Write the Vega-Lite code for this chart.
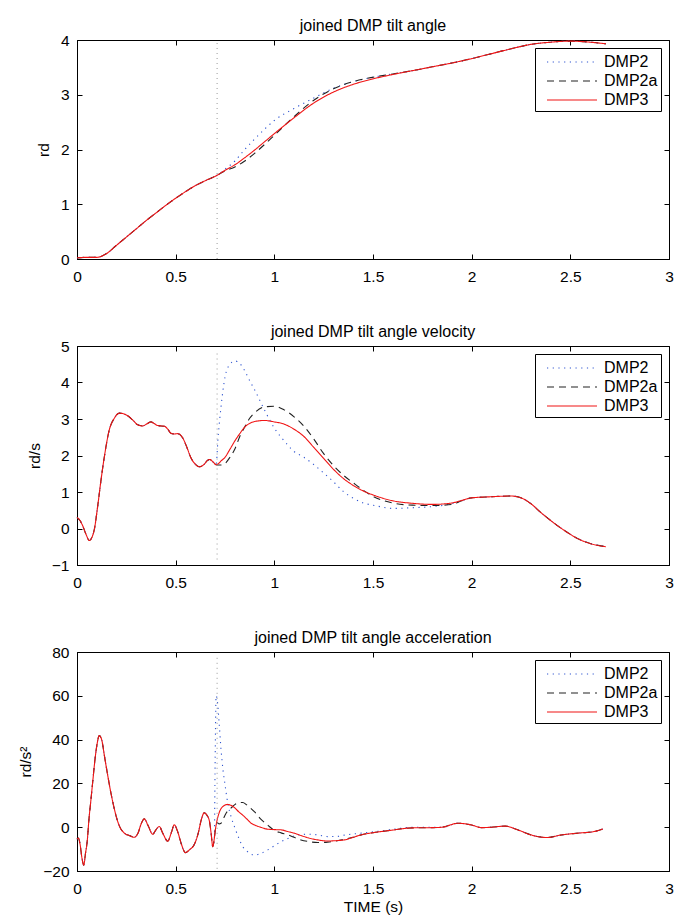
{
  "$schema": "https://vega.github.io/schema/vega-lite/v6.json",
  "padding": {"left": 18, "top": 17, "right": 5, "bottom": 2},
  "spacing": 38,
  "datasets": {
    "angle": [
      {"t": 0, "DMP2": 0.02, "DMP2a": 0.02, "DMP3": 0.02},
      {"t": 0.05, "DMP2": 0.03, "DMP2a": 0.03, "DMP3": 0.03},
      {"t": 0.1, "DMP2": 0.03, "DMP2a": 0.03, "DMP3": 0.03},
      {"t": 0.15, "DMP2": 0.1, "DMP2a": 0.1, "DMP3": 0.1},
      {"t": 0.2, "DMP2": 0.25, "DMP2a": 0.25, "DMP3": 0.25},
      {"t": 0.25, "DMP2": 0.4, "DMP2a": 0.4, "DMP3": 0.4},
      {"t": 0.3, "DMP2": 0.55, "DMP2a": 0.55, "DMP3": 0.55},
      {"t": 0.35, "DMP2": 0.7, "DMP2a": 0.7, "DMP3": 0.7},
      {"t": 0.4, "DMP2": 0.84, "DMP2a": 0.84, "DMP3": 0.84},
      {"t": 0.45, "DMP2": 0.98, "DMP2a": 0.98, "DMP3": 0.98},
      {"t": 0.5, "DMP2": 1.11, "DMP2a": 1.11, "DMP3": 1.11},
      {"t": 0.55, "DMP2": 1.23, "DMP2a": 1.23, "DMP3": 1.23},
      {"t": 0.6, "DMP2": 1.34, "DMP2a": 1.34, "DMP3": 1.34},
      {"t": 0.65, "DMP2": 1.43, "DMP2a": 1.43, "DMP3": 1.43},
      {"t": 0.71, "DMP2": 1.53, "DMP2a": 1.53, "DMP3": 1.53},
      {"t": 0.75, "DMP2": 1.64, "DMP2a": 1.61, "DMP3": 1.62},
      {"t": 0.8, "DMP2": 1.79, "DMP2a": 1.68, "DMP3": 1.72},
      {"t": 0.85, "DMP2": 2.0, "DMP2a": 1.79, "DMP3": 1.85},
      {"t": 0.9, "DMP2": 2.19, "DMP2a": 1.93, "DMP3": 1.99},
      {"t": 0.95, "DMP2": 2.37, "DMP2a": 2.09, "DMP3": 2.14},
      {"t": 1.0, "DMP2": 2.53, "DMP2a": 2.26, "DMP3": 2.29},
      {"t": 1.1, "DMP2": 2.75, "DMP2a": 2.6, "DMP3": 2.58},
      {"t": 1.2, "DMP2": 2.94, "DMP2a": 2.9, "DMP3": 2.85},
      {"t": 1.3, "DMP2": 3.12, "DMP2a": 3.11, "DMP3": 3.05},
      {"t": 1.4, "DMP2": 3.24, "DMP2a": 3.24, "DMP3": 3.19},
      {"t": 1.5, "DMP2": 3.32, "DMP2a": 3.32, "DMP3": 3.29},
      {"t": 1.6, "DMP2": 3.38, "DMP2a": 3.38, "DMP3": 3.37},
      {"t": 1.7, "DMP2": 3.44, "DMP2a": 3.44, "DMP3": 3.44},
      {"t": 1.8, "DMP2": 3.51, "DMP2a": 3.51, "DMP3": 3.51},
      {"t": 1.9, "DMP2": 3.58, "DMP2a": 3.58, "DMP3": 3.58},
      {"t": 2.0, "DMP2": 3.66, "DMP2a": 3.66, "DMP3": 3.66},
      {"t": 2.1, "DMP2": 3.75, "DMP2a": 3.75, "DMP3": 3.75},
      {"t": 2.2, "DMP2": 3.84, "DMP2a": 3.84, "DMP3": 3.84},
      {"t": 2.3, "DMP2": 3.92, "DMP2a": 3.92, "DMP3": 3.92},
      {"t": 2.4, "DMP2": 3.96, "DMP2a": 3.96, "DMP3": 3.96},
      {"t": 2.5, "DMP2": 3.98, "DMP2a": 3.98, "DMP3": 3.98},
      {"t": 2.6, "DMP2": 3.96, "DMP2a": 3.96, "DMP3": 3.96},
      {"t": 2.68, "DMP2": 3.93, "DMP2a": 3.93, "DMP3": 3.93}
    ],
    "vel": [
      {"t": 0, "DMP2": 0.3, "DMP2a": 0.3, "DMP3": 0.3},
      {"t": 0.015, "DMP2": 0.22, "DMP2a": 0.22, "DMP3": 0.22},
      {"t": 0.03, "DMP2": 0.06, "DMP2a": 0.06, "DMP3": 0.06},
      {"t": 0.045, "DMP2": -0.15, "DMP2a": -0.15, "DMP3": -0.15},
      {"t": 0.063, "DMP2": -0.33, "DMP2a": -0.33, "DMP3": -0.33},
      {"t": 0.075, "DMP2": -0.25, "DMP2a": -0.25, "DMP3": -0.25},
      {"t": 0.088, "DMP2": -0.02, "DMP2a": -0.02, "DMP3": -0.02},
      {"t": 0.105, "DMP2": 0.62, "DMP2a": 0.62, "DMP3": 0.62},
      {"t": 0.122, "DMP2": 1.34, "DMP2a": 1.34, "DMP3": 1.34},
      {"t": 0.139, "DMP2": 1.98, "DMP2a": 1.98, "DMP3": 1.98},
      {"t": 0.164, "DMP2": 2.71, "DMP2a": 2.71, "DMP3": 2.71},
      {"t": 0.189, "DMP2": 3.02, "DMP2a": 3.02, "DMP3": 3.02},
      {"t": 0.215, "DMP2": 3.16, "DMP2a": 3.16, "DMP3": 3.16},
      {"t": 0.257, "DMP2": 3.09, "DMP2a": 3.09, "DMP3": 3.09},
      {"t": 0.29, "DMP2": 2.93, "DMP2a": 2.93, "DMP3": 2.93},
      {"t": 0.308, "DMP2": 2.84, "DMP2a": 2.84, "DMP3": 2.84},
      {"t": 0.333, "DMP2": 2.81, "DMP2a": 2.81, "DMP3": 2.81},
      {"t": 0.355, "DMP2": 2.87, "DMP2a": 2.87, "DMP3": 2.87},
      {"t": 0.375, "DMP2": 2.92, "DMP2a": 2.92, "DMP3": 2.92},
      {"t": 0.39, "DMP2": 2.88, "DMP2a": 2.88, "DMP3": 2.88},
      {"t": 0.409, "DMP2": 2.82, "DMP2a": 2.82, "DMP3": 2.82},
      {"t": 0.443, "DMP2": 2.8, "DMP2a": 2.8, "DMP3": 2.8},
      {"t": 0.46, "DMP2": 2.72, "DMP2a": 2.72, "DMP3": 2.72},
      {"t": 0.476, "DMP2": 2.61, "DMP2a": 2.61, "DMP3": 2.61},
      {"t": 0.495, "DMP2": 2.59, "DMP2a": 2.59, "DMP3": 2.59},
      {"t": 0.51, "DMP2": 2.6, "DMP2a": 2.6, "DMP3": 2.6},
      {"t": 0.536, "DMP2": 2.48, "DMP2a": 2.48, "DMP3": 2.48},
      {"t": 0.555, "DMP2": 2.25, "DMP2a": 2.25, "DMP3": 2.25},
      {"t": 0.578, "DMP2": 1.93, "DMP2a": 1.93, "DMP3": 1.93},
      {"t": 0.6, "DMP2": 1.76, "DMP2a": 1.76, "DMP3": 1.76},
      {"t": 0.62, "DMP2": 1.69, "DMP2a": 1.69, "DMP3": 1.69},
      {"t": 0.645, "DMP2": 1.76, "DMP2a": 1.76, "DMP3": 1.76},
      {"t": 0.66, "DMP2": 1.86, "DMP2a": 1.86, "DMP3": 1.86},
      {"t": 0.673, "DMP2": 1.89, "DMP2a": 1.89, "DMP3": 1.89},
      {"t": 0.69, "DMP2": 1.82, "DMP2a": 1.82, "DMP3": 1.82},
      {"t": 0.705, "DMP2": 1.75, "DMP2a": 1.75, "DMP3": 1.75},
      {"t": 0.715, "DMP2": 2.5, "DMP2a": 1.74, "DMP3": 1.77},
      {"t": 0.73, "DMP2": 3.34, "DMP2a": 1.74, "DMP3": 1.85},
      {"t": 0.75, "DMP2": 4.15, "DMP2a": 1.78, "DMP3": 1.95},
      {"t": 0.775, "DMP2": 4.5, "DMP2a": 1.95, "DMP3": 2.17},
      {"t": 0.8, "DMP2": 4.59, "DMP2a": 2.18, "DMP3": 2.4},
      {"t": 0.825, "DMP2": 4.52, "DMP2a": 2.52, "DMP3": 2.6},
      {"t": 0.85, "DMP2": 4.32, "DMP2a": 2.78, "DMP3": 2.78},
      {"t": 0.875, "DMP2": 4.05, "DMP2a": 3.02, "DMP3": 2.88},
      {"t": 0.9, "DMP2": 3.8, "DMP2a": 3.17, "DMP3": 2.93},
      {"t": 0.95, "DMP2": 3.25, "DMP2a": 3.33, "DMP3": 2.96},
      {"t": 1.0, "DMP2": 2.75, "DMP2a": 3.35, "DMP3": 2.92},
      {"t": 1.05, "DMP2": 2.4, "DMP2a": 3.25, "DMP3": 2.86},
      {"t": 1.1, "DMP2": 2.11, "DMP2a": 3.06, "DMP3": 2.72},
      {"t": 1.15, "DMP2": 1.95, "DMP2a": 2.8, "DMP3": 2.52},
      {"t": 1.2, "DMP2": 1.75, "DMP2a": 2.45, "DMP3": 2.22},
      {"t": 1.25, "DMP2": 1.52, "DMP2a": 2.05, "DMP3": 1.92},
      {"t": 1.3, "DMP2": 1.28, "DMP2a": 1.72, "DMP3": 1.62},
      {"t": 1.35, "DMP2": 1.01, "DMP2a": 1.46, "DMP3": 1.37},
      {"t": 1.4, "DMP2": 0.83, "DMP2a": 1.25, "DMP3": 1.18},
      {"t": 1.45, "DMP2": 0.7, "DMP2a": 1.05, "DMP3": 1.03},
      {"t": 1.5, "DMP2": 0.64, "DMP2a": 0.88, "DMP3": 0.92},
      {"t": 1.6, "DMP2": 0.55, "DMP2a": 0.7, "DMP3": 0.76},
      {"t": 1.7, "DMP2": 0.57, "DMP2a": 0.64, "DMP3": 0.69},
      {"t": 1.8, "DMP2": 0.6, "DMP2a": 0.63, "DMP3": 0.66},
      {"t": 1.9, "DMP2": 0.68, "DMP2a": 0.66, "DMP3": 0.7},
      {"t": 1.95, "DMP2": 0.76, "DMP2a": 0.76, "DMP3": 0.77},
      {"t": 2.0, "DMP2": 0.84, "DMP2a": 0.84, "DMP3": 0.84},
      {"t": 2.1, "DMP2": 0.87, "DMP2a": 0.87, "DMP3": 0.87},
      {"t": 2.2, "DMP2": 0.89, "DMP2a": 0.89, "DMP3": 0.89},
      {"t": 2.25, "DMP2": 0.84, "DMP2a": 0.84, "DMP3": 0.84},
      {"t": 2.3, "DMP2": 0.68, "DMP2a": 0.68, "DMP3": 0.68},
      {"t": 2.35, "DMP2": 0.44, "DMP2a": 0.44, "DMP3": 0.44},
      {"t": 2.4, "DMP2": 0.22, "DMP2a": 0.22, "DMP3": 0.22},
      {"t": 2.45, "DMP2": 0.02, "DMP2a": 0.02, "DMP3": 0.02},
      {"t": 2.5, "DMP2": -0.16, "DMP2a": -0.16, "DMP3": -0.16},
      {"t": 2.55, "DMP2": -0.31, "DMP2a": -0.31, "DMP3": -0.31},
      {"t": 2.6, "DMP2": -0.41, "DMP2a": -0.41, "DMP3": -0.41},
      {"t": 2.68, "DMP2": -0.5, "DMP2a": -0.5, "DMP3": -0.5}
    ],
    "acc": [
      {"t": 0, "DMP2": -5.5, "DMP2a": -5.5, "DMP3": -5.5},
      {"t": 0.007, "DMP2": -5.0, "DMP2a": -5.0, "DMP3": -5.0},
      {"t": 0.015, "DMP2": -7.5, "DMP2a": -7.5, "DMP3": -7.5},
      {"t": 0.025, "DMP2": -14, "DMP2a": -14, "DMP3": -14},
      {"t": 0.034, "DMP2": -17.3, "DMP2a": -17.3, "DMP3": -17.3},
      {"t": 0.043, "DMP2": -12, "DMP2a": -12, "DMP3": -12},
      {"t": 0.051, "DMP2": -7, "DMP2a": -7, "DMP3": -7},
      {"t": 0.062, "DMP2": 5, "DMP2a": 5, "DMP3": 5},
      {"t": 0.07, "DMP2": 12, "DMP2a": 12, "DMP3": 12},
      {"t": 0.08, "DMP2": 21, "DMP2a": 21, "DMP3": 21},
      {"t": 0.09, "DMP2": 30, "DMP2a": 30, "DMP3": 30},
      {"t": 0.1, "DMP2": 37, "DMP2a": 37, "DMP3": 37},
      {"t": 0.113, "DMP2": 41.8, "DMP2a": 41.8, "DMP3": 41.8},
      {"t": 0.125, "DMP2": 40, "DMP2a": 40, "DMP3": 40},
      {"t": 0.14, "DMP2": 32, "DMP2a": 32, "DMP3": 32},
      {"t": 0.155, "DMP2": 24, "DMP2a": 24, "DMP3": 24},
      {"t": 0.17, "DMP2": 16.5, "DMP2a": 16.5, "DMP3": 16.5},
      {"t": 0.185, "DMP2": 10, "DMP2a": 10, "DMP3": 10},
      {"t": 0.2, "DMP2": 4.5, "DMP2a": 4.5, "DMP3": 4.5},
      {"t": 0.215, "DMP2": 0.5, "DMP2a": 0.5, "DMP3": 0.5},
      {"t": 0.24, "DMP2": -2.7, "DMP2a": -2.7, "DMP3": -2.7},
      {"t": 0.265, "DMP2": -3.8, "DMP2a": -3.8, "DMP3": -3.8},
      {"t": 0.29, "DMP2": -4.6, "DMP2a": -4.6, "DMP3": -4.6},
      {"t": 0.31, "DMP2": -2.5, "DMP2a": -2.5, "DMP3": -2.5},
      {"t": 0.325, "DMP2": 1.5, "DMP2a": 1.5, "DMP3": 1.5},
      {"t": 0.341, "DMP2": 3.8, "DMP2a": 3.8, "DMP3": 3.8},
      {"t": 0.36, "DMP2": 0.8, "DMP2a": 0.8, "DMP3": 0.8},
      {"t": 0.384, "DMP2": -3.2, "DMP2a": -3.2, "DMP3": -3.2},
      {"t": 0.4, "DMP2": -1.2, "DMP2a": -1.2, "DMP3": -1.2},
      {"t": 0.417, "DMP2": 0.3, "DMP2a": 0.3, "DMP3": 0.3},
      {"t": 0.435, "DMP2": -2.8, "DMP2a": -2.8, "DMP3": -2.8},
      {"t": 0.46, "DMP2": -6.4, "DMP2a": -6.4, "DMP3": -6.4},
      {"t": 0.478, "DMP2": -2.5, "DMP2a": -2.5, "DMP3": -2.5},
      {"t": 0.493, "DMP2": 1.1, "DMP2a": 1.1, "DMP3": 1.1},
      {"t": 0.51, "DMP2": -2.0, "DMP2a": -2.0, "DMP3": -2.0},
      {"t": 0.53, "DMP2": -8, "DMP2a": -8, "DMP3": -8},
      {"t": 0.549, "DMP2": -11.6, "DMP2a": -11.6, "DMP3": -11.6},
      {"t": 0.57, "DMP2": -10.3, "DMP2a": -10.3, "DMP3": -10.3},
      {"t": 0.595, "DMP2": -7.8, "DMP2a": -7.8, "DMP3": -7.8},
      {"t": 0.615, "DMP2": -2.5, "DMP2a": -2.5, "DMP3": -2.5},
      {"t": 0.63, "DMP2": 3.5, "DMP2a": 3.5, "DMP3": 3.5},
      {"t": 0.645, "DMP2": 6.6, "DMP2a": 6.6, "DMP3": 6.6},
      {"t": 0.658, "DMP2": 5.5, "DMP2a": 5.5, "DMP3": 5.5},
      {"t": 0.671, "DMP2": 2.8, "DMP2a": 2.8, "DMP3": 2.8},
      {"t": 0.68, "DMP2": -3, "DMP2a": -3, "DMP3": -3},
      {"t": 0.688, "DMP2": -8.9, "DMP2a": -8.9, "DMP3": -8.9},
      {"t": 0.696, "DMP2": -5, "DMP2a": -5, "DMP3": -5},
      {"t": 0.7, "DMP2": 30, "DMP2a": -2, "DMP3": -2},
      {"t": 0.705, "DMP2": 60, "DMP2a": 1, "DMP3": 1},
      {"t": 0.712, "DMP2": 57, "DMP2a": 2, "DMP3": 4},
      {"t": 0.72, "DMP2": 48, "DMP2a": 1.5, "DMP3": 6.5},
      {"t": 0.73, "DMP2": 35.4, "DMP2a": 1.8, "DMP3": 8.5},
      {"t": 0.74, "DMP2": 26, "DMP2a": 3.5, "DMP3": 9.5},
      {"t": 0.75, "DMP2": 19.5, "DMP2a": 5.5, "DMP3": 10.1},
      {"t": 0.764, "DMP2": 11, "DMP2a": 7.5, "DMP3": 10.4},
      {"t": 0.78, "DMP2": 5, "DMP2a": 8.7, "DMP3": 10.0},
      {"t": 0.8, "DMP2": -0.3, "DMP2a": 10.3, "DMP3": 8.8},
      {"t": 0.82, "DMP2": -5, "DMP2a": 11.2, "DMP3": 7.0},
      {"t": 0.84, "DMP2": -8.9, "DMP2a": 11.3, "DMP3": 5.5},
      {"t": 0.86, "DMP2": -10.8, "DMP2a": 10.2, "DMP3": 3.8},
      {"t": 0.88, "DMP2": -12.2, "DMP2a": 8.7, "DMP3": 2.0},
      {"t": 0.9, "DMP2": -12.7, "DMP2a": 7.0, "DMP3": 1.0},
      {"t": 0.93, "DMP2": -12.0, "DMP2a": 3.8, "DMP3": 0.0},
      {"t": 0.966, "DMP2": -10.4, "DMP2a": 1.0, "DMP3": -0.9},
      {"t": 1.0, "DMP2": -8.5, "DMP2a": -1.5, "DMP3": -1.1},
      {"t": 1.034, "DMP2": -6.6, "DMP2a": -2.6, "DMP3": -1.2},
      {"t": 1.068, "DMP2": -5.2, "DMP2a": -3.5, "DMP3": -2.0},
      {"t": 1.1, "DMP2": -4.0, "DMP2a": -4.6, "DMP3": -2.7},
      {"t": 1.135, "DMP2": -3.4, "DMP2a": -5.8, "DMP3": -3.8},
      {"t": 1.17, "DMP2": -3.2, "DMP2a": -6.5, "DMP3": -4.8},
      {"t": 1.22, "DMP2": -3.5, "DMP2a": -7.0, "DMP3": -5.8},
      {"t": 1.27, "DMP2": -4.3, "DMP2a": -6.8, "DMP3": -6.3},
      {"t": 1.32, "DMP2": -4.2, "DMP2a": -6.2, "DMP3": -6.1},
      {"t": 1.355, "DMP2": -3.6, "DMP2a": -5.5, "DMP3": -5.8},
      {"t": 1.4, "DMP2": -3.1, "DMP2a": -4.6, "DMP3": -4.6},
      {"t": 1.44, "DMP2": -2.7, "DMP2a": -3.5, "DMP3": -3.5},
      {"t": 1.5, "DMP2": -2.1, "DMP2a": -2.5, "DMP3": -2.5},
      {"t": 1.55, "DMP2": -1.6, "DMP2a": -1.9, "DMP3": -1.9},
      {"t": 1.6, "DMP2": -1.0, "DMP2a": -1.3, "DMP3": -1.3},
      {"t": 1.7, "DMP2": 0.0, "DMP2a": -0.3, "DMP3": -0.3},
      {"t": 1.8, "DMP2": 0.0, "DMP2a": -0.2, "DMP3": -0.2},
      {"t": 1.85, "DMP2": 0.0, "DMP2a": 0.0, "DMP3": 0.0},
      {"t": 1.93, "DMP2": 1.8, "DMP2a": 1.8, "DMP3": 1.8},
      {"t": 2.0, "DMP2": 1.0, "DMP2a": 1.0, "DMP3": 1.0},
      {"t": 2.05, "DMP2": -0.2, "DMP2a": -0.2, "DMP3": -0.2},
      {"t": 2.1, "DMP2": 0.0, "DMP2a": 0.0, "DMP3": 0.0},
      {"t": 2.17, "DMP2": 0.5, "DMP2a": 0.5, "DMP3": 0.5},
      {"t": 2.233, "DMP2": -1.2, "DMP2a": -1.2, "DMP3": -1.2},
      {"t": 2.3, "DMP2": -3.5, "DMP2a": -3.5, "DMP3": -3.5},
      {"t": 2.35, "DMP2": -4.5, "DMP2a": -4.5, "DMP3": -4.5},
      {"t": 2.385, "DMP2": -4.7, "DMP2a": -4.7, "DMP3": -4.7},
      {"t": 2.45, "DMP2": -3.6, "DMP2a": -3.6, "DMP3": -3.6},
      {"t": 2.54, "DMP2": -2.7, "DMP2a": -2.7, "DMP3": -2.7},
      {"t": 2.62, "DMP2": -2.0, "DMP2a": -2.0, "DMP3": -2.0},
      {"t": 2.665, "DMP2": -0.8, "DMP2a": -0.8, "DMP3": -0.8}
    ]
  },
  "config": {
    "font": "Liberation Sans",
    "view": {"stroke": "black", "strokeWidth": 1},
    "axis": {
      "grid": false,
      "domainColor": "black",
      "tickColor": "black",
      "labelColor": "black",
      "labelFontSize": 15.5,
      "labelFont": "Liberation Sans",
      "titleFont": "Liberation Sans",
      "titleFontSize": 15.5,
      "titleFontWeight": "normal",
      "titleColor": "black",
      "tickSize": -5,
      "labelFlush": false,
      "labelOverlap": false,
      "format": "~r"
    },
    "axisX": {"labelPadding": 15},
    "axisY": {"labelPadding": 13, "titlePadding": 9},
    "title": {"font": "Liberation Sans", "fontSize": 16, "fontWeight": "normal", "color": "black", "offset": -1},
    "legend": {
      "orient": "top-right",
      "offset": 8,
      "strokeColor": "black",
      "fillColor": "white",
      "padding": 3,
      "labelFont": "Liberation Sans",
      "labelFontSize": 16,
      "labelColor": "black",
      "symbolType": "M-0.2,0H4.8",
      "symbolSize": 400,
      "symbolStrokeWidth": 1.2,
      "rowPadding": 0,
      "labelOffset": 44,
      "title": null
    }
  },
  "resolve": {
    "scale": {"color": "independent", "strokeDash": "independent", "x": "independent", "y": "independent"},
    "legend": {"color": "independent", "strokeDash": "independent"}
  },
  "vconcat": [
    {
      "width": 592,
      "height": 219,
      "title": "joined DMP tilt angle",
      "resolve": {"axis": {"x": "independent", "y": "independent"}},
      "layer": [
        {
          "data": {"name": "angle"},
          "transform": [{"fold": ["DMP2", "DMP2a", "DMP3"], "as": ["series", "value"]}],
          "mark": {"type": "line", "strokeWidth": 1.1, "interpolate": "monotone"},
          "encoding": {
            "x": {"field": "t", "type": "quantitative", "scale": {"domain": [0, 3]}, "axis": {"values": [0, 0.5, 1, 1.5, 2, 2.5, 3], "title": null}},
            "y": {"field": "value", "type": "quantitative", "scale": {"domain": [0, 4]}, "axis": {"values": [0, 1, 2, 3, 4], "title": "rd"}},
            "color": {"field": "series", "type": "nominal", "scale": {"domain": ["DMP2", "DMP2a", "DMP3"], "range": ["#2f55d0", "#222222", "#f01414"]}},
            "strokeDash": {"field": "series", "type": "nominal", "scale": {"domain": ["DMP2", "DMP2a", "DMP3"], "range": [[1.2, 4.5], [7, 5], [1, 0]]}}
          }
        },
        {
          "data": {"values": [{"t": 0.71, "lo": 0, "hi": 3.95}]},
          "mark": {"type": "rule", "color": "#999999", "strokeDash": [1, 4], "strokeWidth": 1},
          "encoding": {
            "x": {"field": "t", "type": "quantitative", "axis": {"orient": "top", "values": [0, 0.5, 1, 1.5, 2, 2.5, 3], "labels": false, "title": null, "domain": false, "minExtent": 0, "maxExtent": 0}},
            "y": {"field": "lo", "type": "quantitative", "axis": {"orient": "right", "values": [0, 1, 2, 3, 4], "labels": false, "title": null, "domain": false, "minExtent": 0, "maxExtent": 0}},
            "y2": {"field": "hi"}
          }
        }
      ]
    },
    {
      "width": 592,
      "height": 219,
      "title": "joined DMP tilt angle velocity",
      "resolve": {"axis": {"x": "independent", "y": "independent"}},
      "layer": [
        {
          "data": {"name": "vel"},
          "transform": [{"fold": ["DMP2", "DMP2a", "DMP3"], "as": ["series", "value"]}],
          "mark": {"type": "line", "strokeWidth": 1.1, "interpolate": "monotone"},
          "encoding": {
            "x": {"field": "t", "type": "quantitative", "scale": {"domain": [0, 3]}, "axis": {"values": [0, 0.5, 1, 1.5, 2, 2.5, 3], "title": null}},
            "y": {"field": "value", "type": "quantitative", "scale": {"domain": [-1, 5]}, "axis": {"values": [-1, 0, 1, 2, 3, 4, 5], "title": "rd/s"}},
            "color": {"field": "series", "type": "nominal", "scale": {"domain": ["DMP2", "DMP2a", "DMP3"], "range": ["#2f55d0", "#222222", "#f01414"]}},
            "strokeDash": {"field": "series", "type": "nominal", "scale": {"domain": ["DMP2", "DMP2a", "DMP3"], "range": [[1.2, 4.5], [7, 5], [1, 0]]}}
          }
        },
        {
          "data": {"values": [{"t": 0.71, "lo": -0.85, "hi": 4.88}]},
          "mark": {"type": "rule", "color": "#999999", "strokeDash": [1, 4], "strokeWidth": 1},
          "encoding": {
            "x": {"field": "t", "type": "quantitative", "axis": {"orient": "top", "values": [0, 0.5, 1, 1.5, 2, 2.5, 3], "labels": false, "title": null, "domain": false, "minExtent": 0, "maxExtent": 0}},
            "y": {"field": "lo", "type": "quantitative", "axis": {"orient": "right", "values": [-1, 0, 1, 2, 3, 4, 5], "labels": false, "title": null, "domain": false, "minExtent": 0, "maxExtent": 0}},
            "y2": {"field": "hi"}
          }
        }
      ]
    },
    {
      "width": 592,
      "height": 219,
      "title": "joined DMP tilt angle acceleration",
      "resolve": {"axis": {"x": "independent", "y": "independent"}},
      "layer": [
        {
          "data": {"name": "acc"},
          "transform": [{"fold": ["DMP2", "DMP2a", "DMP3"], "as": ["series", "value"]}],
          "mark": {"type": "line", "strokeWidth": 1.1, "interpolate": "monotone"},
          "encoding": {
            "x": {"field": "t", "type": "quantitative", "scale": {"domain": [0, 3]}, "axis": {"values": [0, 0.5, 1, 1.5, 2, 2.5, 3], "title": "TIME (s)", "titlePadding": 3}},
            "y": {"field": "value", "type": "quantitative", "scale": {"domain": [-20, 80]}, "axis": {"values": [-20, 0, 20, 40, 60, 80], "title": "rd/s²"}},
            "color": {"field": "series", "type": "nominal", "scale": {"domain": ["DMP2", "DMP2a", "DMP3"], "range": ["#2f55d0", "#222222", "#f01414"]}},
            "strokeDash": {"field": "series", "type": "nominal", "scale": {"domain": ["DMP2", "DMP2a", "DMP3"], "range": [[1.2, 4.5], [7, 5], [1, 0]]}}
          }
        },
        {
          "data": {"values": [{"t": 0.71, "lo": -19, "hi": 79}]},
          "mark": {"type": "rule", "color": "#999999", "strokeDash": [1, 4], "strokeWidth": 1},
          "encoding": {
            "x": {"field": "t", "type": "quantitative", "axis": {"orient": "top", "values": [0, 0.5, 1, 1.5, 2, 2.5, 3], "labels": false, "title": null, "domain": false, "minExtent": 0, "maxExtent": 0}},
            "y": {"field": "lo", "type": "quantitative", "axis": {"orient": "right", "values": [-20, 0, 20, 40, 60, 80], "labels": false, "title": null, "domain": false, "minExtent": 0, "maxExtent": 0}},
            "y2": {"field": "hi"}
          }
        }
      ]
    }
  ]
}
